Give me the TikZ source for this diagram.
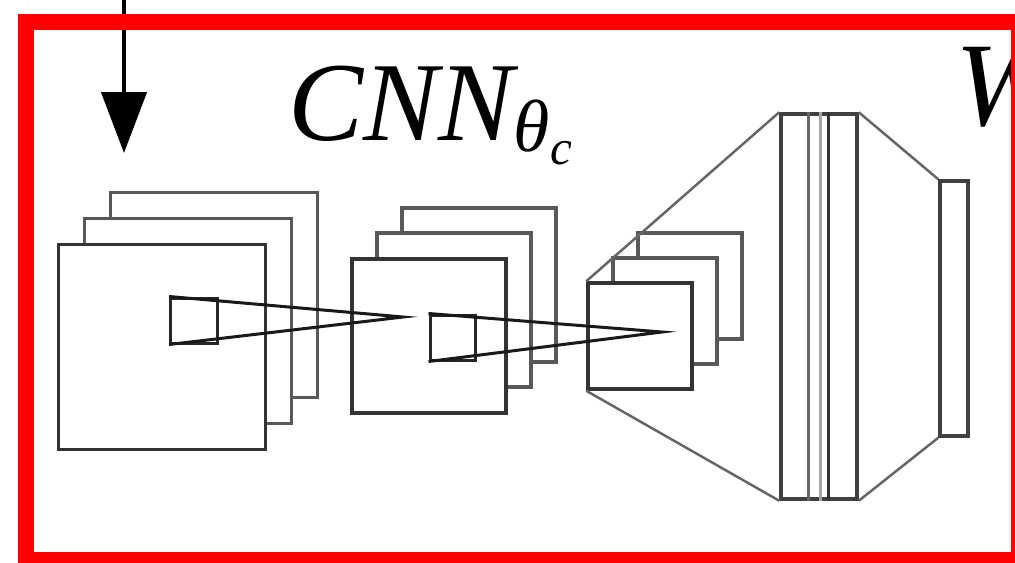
\documentclass[tikz,border=0pt]{standalone}
\usepackage{fontspec}
\setmainfont{Liberation Serif}
\usetikzlibrary{arrows.meta}

\begin{document}
\begin{tikzpicture}[x=0.1mm, y=-0.1mm,
  fmap/.style={draw=black!65, fill=white, line width=0.35mm, inner sep=0pt},
  fmapfront/.style={fmap, draw=black!80},
  lay1/.style={minimum width=20.7mm, minimum height=20.5mm},
  lay2/.style={minimum width=15.4mm, minimum height=15.4mm},
  lay3/.style={minimum width=10.4mm, minimum height=10.6mm},
  kern/.style={draw=black!85, line width=0.3mm, inner sep=0pt,
               minimum width=4.7mm, minimum height=4.5mm},
  cone/.style={black!90, line width=0.3mm},
  proj/.style={black!60, line width=0.25mm},
  slab/.style={draw=black!75, fill=white, line width=0.35mm, inner sep=0pt},
  arr/.style={-{Triangle[width=4.5mm, length=6.1mm]}, line width=0.45mm, black},
  frame/.style={draw=red, line width=1.6mm},
  lbl/.style={anchor=base west, inner sep=0pt, font=\fontsize{32}{32}\selectfont\itshape}
]
  \useasboundingbox (0,0) rectangle (1015,562);
  % input arrow
  \coordinate (src) at (124,-10);
  \coordinate (tip) at (124,153);
  \draw[arr] (src) -- (tip);
  % layer 1
  \node[fmap, lay1] (c1c) at (214,295) {};
  \node[fmap, lay1] (c1b) at (188,321) {};
  \node[fmapfront, lay1] (c1a) at (162,347) {};
  \node[kern] (k1) at (194,320.5) {};
  % layer 2
  \node[fmap, lay2] (c2c) at (479,285) {};
  \node[fmap, lay2] (c2b) at (454,310) {};
  \node[fmapfront, lay2] (c2a) at (429,336) {};
  \coordinate (a1) at (403,317);
  \draw[cone] (k1.north west) -- (a1) -- (k1.south west);
  \node[kern, minimum width=4.5mm] (k2) at (452.5,337.5) {};
  % layer 3
  \node[fmap, lay3] (c3c) at (690,286) {};
  \node[fmap, lay3] (c3b) at (665,311) {};
  \node[fmapfront, lay3] (c3a) at (640,336) {};
  \coordinate (a2) at (662,332);
  \draw[cone] (k2.north west) -- (a2) -- (k2.south west);
  % fully connected part
  \node[slab, minimum width=7.6mm, minimum height=38.5mm] (fc) at (819,306.5) {};
  \draw[black!35, line width=0.25mm] ([xshift=4.1mm]fc.north west) -- ([xshift=4.1mm]fc.south west);
  \draw[black!60, line width=0.3mm] ([xshift=2.9mm]fc.north west) -- ([xshift=2.9mm]fc.south west);
  \draw[black!80, line width=0.3mm] ([xshift=4.9mm]fc.north west) -- ([xshift=4.9mm]fc.south west);
  \node[slab, minimum width=2.8mm, minimum height=25.5mm] (out) at (954,308.5) {};
  \draw[proj] (c3a.north west) -- (fc.north west);
  \draw[proj] (c3a.south west) -- (fc.south west);
  \draw[proj] (fc.north east) -- (out.north west);
  \draw[proj] (fc.south east) -- (out.south west);
  % labels
  \node[lbl] (cnnlbl) at (288,140) {CNN\raisebox{-3.4pt}{\fontsize{21}{21}\selectfont θ\raisebox{-3.7pt}{\fontsize{14}{14}\selectfont c}}};
  \node[lbl, font=\fontsize{34}{34}\selectfont\itshape] (wlbl) at (955,125) {W};
  % frame
  \draw[frame] (26,22) rectangle (1019,560);
\end{tikzpicture}
\end{document}
